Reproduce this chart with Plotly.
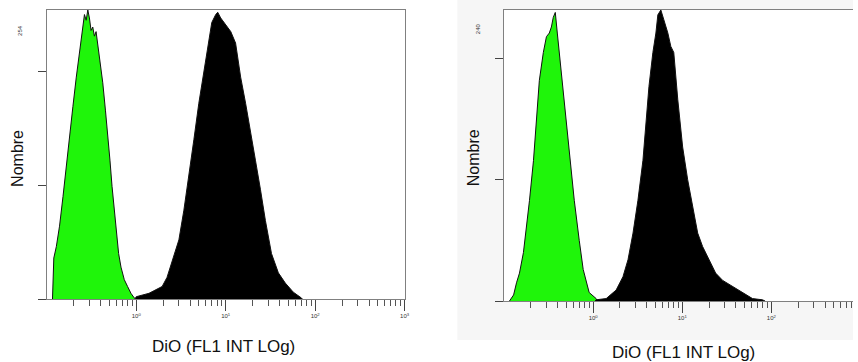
import plotly.graph_objects as go

# ---------------- data ----------------
# Left panel, green histogram: fluorescence (FL1, log) and counts
left_green_fl = [0.116, 0.120, 0.128, 0.139, 0.152, 0.166, 0.180, 0.196, 0.214, 0.229,
                 0.243, 0.258, 0.264, 0.276, 0.288, 0.300, 0.313, 0.327, 0.341, 0.356,
                 0.395, 0.423, 0.453, 0.480, 0.509, 0.537, 0.570, 0.604, 0.636, 0.676,
                 0.736, 0.801, 0.873, 0.950, 0.980]
left_green_n = [0, 36, 46, 64, 90, 119, 140, 169, 195, 213,
                225, 242, 250, 245, 254, 247, 236, 239, 231, 235,
                210, 190, 166, 146, 122, 99, 78, 58, 40, 28,
                17, 11, 5, 1, 0]

# Left panel, black histogram
left_black_fl = [0.97, 1.00, 1.39, 1.95, 2.21, 2.51, 3.00, 3.41, 3.88, 4.41,
                 5.01, 5.70, 6.47, 6.99, 7.74, 8.15, 8.80, 10.0, 11.4, 12.9,
                 14.7, 16.7, 18.9, 21.5, 24.5, 27.8, 32.5, 38.8, 46.4, 57.0,
                 69.9, 72.0]
left_black_n = [0, 2, 5, 11, 19, 32, 52, 78, 107, 140,
                172, 199, 225, 243, 250, 252, 247, 241, 235, 225,
                195, 172, 146, 122, 96, 69, 40, 23, 14, 6,
                1, 0]

# Right panel, green histogram
right_green_fl = [0.115, 0.128, 0.138, 0.149, 0.165, 0.178, 0.193, 0.214, 0.231, 0.249,
                  0.276, 0.299, 0.322, 0.340, 0.357, 0.376, 0.396, 0.417, 0.439, 0.474,
                  0.512, 0.553, 0.614, 0.698, 0.773, 0.902, 1.08, 1.10]
right_green_n = [0, 5, 15, 23, 40, 59, 83, 116, 147, 182,
                 205, 218, 221, 226, 234, 238, 221, 205, 185, 166,
                 139, 116, 83, 50, 26, 7, 2, 0]

# Right panel, black histogram
right_black_fl = [1.05, 1.08, 1.40, 1.81, 2.16, 2.46, 2.80, 3.18, 3.62, 3.91,
                  4.23, 4.68, 5.06, 5.32, 5.75, 6.21, 6.89, 7.44, 8.03, 8.91,
                  10.1, 11.5, 13.1, 14.9, 16.9, 19.8, 23.7, 28.4, 36.7, 47.4,
                  61.4, 79.3, 85.0]
right_black_n = [0, 1, 2, 9, 20, 34, 56, 83, 116, 149,
                 177, 205, 221, 236, 240, 232, 221, 210, 205, 166,
                 127, 100, 78, 56, 45, 34, 23, 17, 12, 7,
                 2, 1, 0]

left_max = 254
right_max = 240
count_ticks = [0, 100, 200]
decade_vals = [1, 10, 100, 1000]
decade_text = ["10<sup>0</sup>", "10<sup>1</sup>", "10<sup>2</sup>", "10<sup>3</sup>"]
x_title = "DiO (FL1 INT LOg)"
y_title = "Nombre"

# ---------------- figure ----------------
W, H = 858, 362
GREEN = "#1ff50a"
FONT = "Arial, Liberation Sans, sans-serif"

def px(x):
    return x / W

def py(y):
    return 1 - y / H

fig = go.Figure()

def hist(xs, ys, fill, xa, ya):
    fig.add_trace(go.Scatter(
        x=xs, y=ys, mode="lines", fill="tozeroy", fillcolor=fill,
        line=dict(color="#111111", width=1), xaxis=xa, yaxis=ya,
        hoverinfo="skip", showlegend=False))

hist(left_green_fl, left_green_n, GREEN, "x", "y")
hist(left_black_fl, left_black_n, "#000000", "x", "y")
hist(right_green_fl, right_green_n, GREEN, "x2", "y2")
hist(right_black_fl, right_black_n, "#000000", "x2", "y2")

minor_vals = [m * 10 ** d for d in range(-1, 3) for m in range(2, 10)]

xcommon = dict(type="log", showgrid=False, zeroline=False, showline=True,
               linecolor="#808080", linewidth=1, mirror=True,
               ticks="outside", ticklen=11, tickcolor="#444", tickwidth=1,
               tickvals=decade_vals, ticktext=decade_text,
               tickfont=dict(size=6, color="#333", family=FONT),
               minor=dict(tickvals=minor_vals, ticks="outside", ticklen=6,
                          tickcolor="#555", tickwidth=1, showgrid=False),
               fixedrange=True)
ycommon = dict(showgrid=False, zeroline=False, showline=True,
               linecolor="#808080", linewidth=1,
               ticks="outside", ticklen=8, tickcolor="#444",
               tickvals=count_ticks, showticklabels=False, fixedrange=True)

fig.update_layout(
    width=W, height=H,
    margin=dict(l=0, r=0, t=0, b=0),
    paper_bgcolor="white", plot_bgcolor="white",
    font=dict(family=FONT),
    xaxis=dict(xcommon, domain=[px(47), px(407)], range=[-1, 3], anchor="y"),
    yaxis=dict(ycommon, domain=[py(299), py(10)], range=[0, left_max], mirror=True, anchor="x"),
    xaxis2=dict(xcommon, domain=[px(507), 1.0], range=[-1, 2.916], anchor="y2"),
    yaxis2=dict(ycommon, domain=[py(301), py(10)], range=[0, right_max], mirror=False, anchor="x2"),
)

# light grey background behind the right panel
fig.add_shape(type="rect", xref="paper", yref="paper", x0=px(460), x1=1, y0=py(340), y1=1,
              fillcolor="#f6f6f6", line=dict(width=0), layer="below")
fig.add_shape(type="rect", xref="paper", yref="paper", x0=px(507), x1=1, y0=py(301), y1=py(10),
              fillcolor="white", line=dict(width=0), layer="below")

ann = []
ann.append(dict(text=y_title, x=px(17), y=py(158), textangle=-90, font=dict(size=16, color="#111")))
ann.append(dict(text=y_title, x=px(476), y=py(158), textangle=-90, font=dict(size=16, color="#111")))
ann.append(dict(text=x_title, x=px(225), y=py(346), font=dict(size=17, color="#111")))
ann.append(dict(text=x_title, x=px(688), y=py(352), font=dict(size=17, color="#111")))
ann.append(dict(text=str(left_max), x=px(20), y=py(30), textangle=-90, font=dict(size=6, color="#333")))
ann.append(dict(text=str(right_max), x=px(481), y=py(29), textangle=-90, font=dict(size=6, color="#333")))
for a in ann:
    a.update(xref="paper", yref="paper", showarrow=False, xanchor="center", yanchor="middle")
    fig.add_annotation(**a)

fig.write_html("out.html", config={"displayModeBar": False},
               post_script="document.body.style.margin='0px';document.body.style.overflow='hidden';")
